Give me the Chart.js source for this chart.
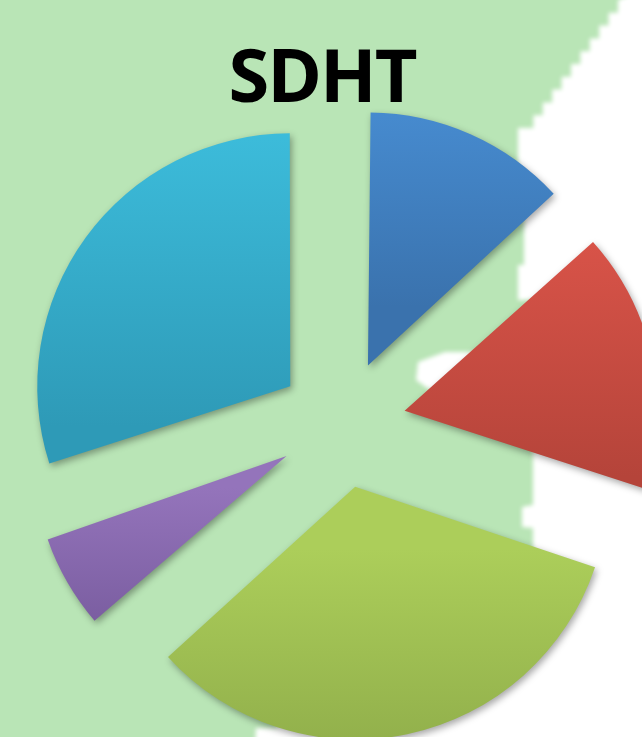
<!DOCTYPE html>
<html>
<head>
<meta charset="utf-8">
<script src="https://cdn.jsdelivr.net/npm/chart.js@4.4.1/dist/chart.umd.min.js"></script>
<style>
  html, body { margin: 0; padding: 0; }
  body { width: 642px; height: 737px; overflow: hidden; position: relative; background: #b9e5b6; }
  #paperBlur { position: absolute; left: 0; top: -40px; width: 720px; height: 840px; filter: blur(2px); }
  #paper { position: absolute; left: 0; top: 0; width: 720px; height: 840px; background: #ffffff; }
  #title {
    position: absolute; left: 0; width: 644px; top: 37px; text-align: center;
    font-family: 'Open Sans', sans-serif; font-weight: 700; font-size: 74px; line-height: 74px;
    color: #000; letter-spacing: -2px;
  }
  #wrap { position: absolute; left: 0; top: 0; width: 642px; height: 737px; }
</style>
</head>
<body>
<div id="paperBlur"><div id="paper"></div></div>
<div id="wrap"><canvas id="pieChart"></canvas></div>
<div id="title">SDHT</div>
<script>
const labels = ['A', 'B', 'C', 'D', 'E'];
const values = [13.3, 16.8, 33.3, 6.7, 30.0];
const topColors = ['#4a92d9', '#da5449', '#acce5a', '#9474bb', '#3ec0df'];
const bottomColors = ['#3a72ad', '#b5443a', '#8aa747', '#74589a', '#2e9ab7'];

const pieRadius = 253;
const explode = 64;

// fondo: hoja blanca con borde dentado (solo decoración)
function stairs(x0, y0, x1, y1, step) {
    const pts = [];
    const n = Math.max(1, Math.round(Math.abs(y1 - y0) / step));
    for (let k = 0; k < n; k++) {
        const ya = y0 + (y1 - y0) * k / n;
        const yb = y0 + (y1 - y0) * (k + 1) / n;
        const xa = x0 + (x1 - x0) * k / n;
        const xb = x0 + (x1 - x0) * (k + 1) / n;
        pts.push([xa, ya], [xa, yb], [xb, yb]);
    }
    return pts;
}
let edge = [].concat(
    stairs(618, 0, 524, 128, 13),
    [[518, 128], [518, 185], [524, 185], [524, 265], [518, 265], [518, 300], [533, 300], [533, 352],
     [445, 352], [418, 362], [416, 380], [430, 390], [533, 392], [533, 505], [522, 507], [522, 527],
     [533, 528], [533, 600]],
    stairs(533, 600, 256, 728, 10),
    [[252, 800], [720, 800], [720, -40]]
);
const poly = edge.map(p => `${p[0]}px ${p[1] + 40}px`).join(', ');
document.getElementById('paper').style.clipPath = `polygon(${poly})`;

// degradado vertical por sector
function sliceFill(context) {
    const i = context.dataIndex;
    const arc = context.element;
    if (!arc || !arc.outerRadius) return topColors[i];
    const mid = (arc.startAngle + arc.endAngle) / 2;
    const cx = arc.x + Math.cos(mid) * explode;
    const cy = arc.y + Math.sin(mid) * explode;
    let minY = cy, maxY = cy;
    for (let k = 0; k <= 60; k++) {
        const a = arc.startAngle + (arc.endAngle - arc.startAngle) * k / 60;
        const y = cy + Math.sin(a) * pieRadius;
        minY = Math.min(minY, y);
        maxY = Math.max(maxY, y);
    }
    const g = context.chart.ctx.createLinearGradient(0, minY, 0, maxY);
    g.addColorStop(0, topColors[i]);
    g.addColorStop(1, bottomColors[i]);
    return g;
}

// Chart.js agranda el radio de los sectores desplazados; se compensa
const radiusFix = {
    id: 'radiusFix',
    afterDatasetsUpdate(chart) {
        chart.getDatasetMeta(0).data.forEach(arc => {
            const circ = arc.endAngle - arc.startAngle;
            arc.outerRadius = pieRadius - explode * (1 - Math.sin(Math.min(Math.PI, circ)));
        });
    }
};

const shadowPlugin = {
    id: 'sliceShadow',
    beforeDatasetsDraw(chart) {
        const ctx = chart.ctx;
        ctx.save();
        ctx.shadowColor = 'rgba(0,0,0,0.35)';
        ctx.shadowBlur = 7;
        ctx.shadowOffsetX = 2;
        ctx.shadowOffsetY = 3;
    },
    afterDatasetsDraw(chart) {
        chart.ctx.restore();
    }
};

const chart = new Chart(document.getElementById('pieChart'), {
    type: 'pie',
    data: {
        labels: labels,
        datasets: [{
            data: values,
            backgroundColor: sliceFill,
            borderWidth: 0,
            offset: explode * 4,
            hoverOffset: explode * 4,
            clip: false
        }]
    },
    options: {
        responsive: true,
        maintainAspectRatio: false,
        animation: false,
        radius: pieRadius,
        layout: { padding: { left: 42, right: 0, top: 111, bottom: 0 } },
        plugins: {
            legend: { display: false },
            tooltip: { enabled: false },
            title: { display: false }
        },
        events: []
    },
    plugins: [radiusFix, shadowPlugin]
});
chart.update();
</script>
</body>
</html>
